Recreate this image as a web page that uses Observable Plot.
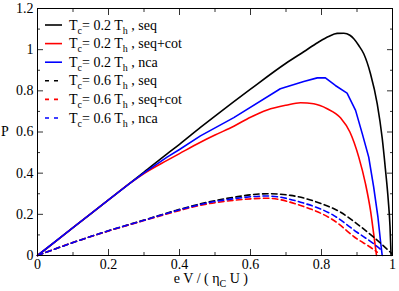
<!DOCTYPE html>
<html>
<head>
<meta charset="utf-8">
<script src="https://cdn.jsdelivr.net/npm/d3@7"></script>
<script src="https://cdn.jsdelivr.net/npm/@observablehq/plot@0.6"></script>
<style>
  html, body { margin: 0; padding: 0; background: white; }
  #chart svg { display: block; }
</style>
</head>
<body>
<div id="chart"></div>
<script>
// ---- data ----
const xMajor = [0, 0.2, 0.4, 0.6, 0.8, 1];
const xMinor = [0.1, 0.3, 0.5, 0.7, 0.9];
const yMajor = [0, 0.2, 0.4, 0.6, 0.8, 1, 1.2];
const yMinor = [0.1, 0.3, 0.5, 0.7, 0.9, 1.1];

// Tc = 0.2 Th, seq (black solid)
const blackSolidX = [0, 0.1, 0.2, 0.3, 0.365, 0.4, 0.459, 0.5, 0.6, 0.7, 0.75, 0.79, 0.82, 0.844, 0.863, 0.88, 0.891, 0.905, 0.919, 0.938, 0.957, 0.971, 0.98, 0.988, 0.993, 0.996];
const blackSolidY = [0, 0.135, 0.27, 0.405, 0.494, 0.54, 0.622, 0.677, 0.808, 0.934, 0.99, 1.035, 1.064, 1.079, 1.08, 1.07, 1.053, 1.02, 0.98, 0.883, 0.737, 0.57, 0.42, 0.27, 0.14, 0];
// Tc = 0.2 Th, seq+cot (red solid)
const redSolidX = [0, 0.1, 0.2, 0.26, 0.3, 0.365, 0.4, 0.459, 0.5, 0.553, 0.6, 0.647, 0.7, 0.741, 0.778, 0.816, 0.854, 0.88, 0.905, 0.924, 0.938, 0.947, 0.955];
const redSolidY = [0, 0.135, 0.27, 0.35, 0.398, 0.462, 0.495, 0.55, 0.585, 0.628, 0.672, 0.707, 0.73, 0.742, 0.737, 0.713, 0.668, 0.6, 0.478, 0.348, 0.219, 0.105, 0];
// Tc = 0.2 Th, nca (blue solid)
const blueSolidX = [0, 0.1, 0.2, 0.26, 0.3, 0.365, 0.4, 0.459, 0.553, 0.684, 0.75, 0.788, 0.811, 0.839, 0.872, 0.896, 0.915, 0.933, 0.947, 0.959, 0.966, 0.971];
const blueSolidY = [0, 0.135, 0.27, 0.35, 0.401, 0.478, 0.515, 0.581, 0.67, 0.81, 0.845, 0.863, 0.863, 0.826, 0.789, 0.705, 0.591, 0.478, 0.332, 0.186, 0.073, 0];
// Tc = 0.6 Th, seq (black dashed)
const blackDashX = [0, 0.1, 0.194, 0.3, 0.39, 0.459, 0.553, 0.647, 0.713, 0.788, 0.854, 0.9, 0.947, 0.999];
const blackDashY = [0, 0.063, 0.117, 0.172, 0.219, 0.251, 0.283, 0.3, 0.292, 0.259, 0.21, 0.154, 0.089, 0.008];
// Tc = 0.6 Th, seq+cot (red dashed)
const redDashX = [0, 0.1, 0.194, 0.3, 0.39, 0.459, 0.553, 0.647, 0.741, 0.835, 0.9, 0.938, 0.957];
const redDashY = [0, 0.063, 0.116, 0.17, 0.214, 0.244, 0.268, 0.278, 0.243, 0.17, 0.081, 0.04, 0.016];
// Tc = 0.6 Th, nca (blue dashed)
const blueDashX = [0, 0.1, 0.194, 0.3, 0.39, 0.459, 0.553, 0.647, 0.741, 0.835, 0.9, 0.947, 0.971];
const blueDashY = [0, 0.063, 0.117, 0.171, 0.217, 0.248, 0.276, 0.289, 0.259, 0.194, 0.113, 0.057, 0.024];

// legend
const legendTc = ["0.2", "0.2", "0.2", "0.6", "0.6", "0.6"];
const legendModel = ["seq", "seq+cot", "nca", "seq", "seq+cot", "nca"];
const seriesColor = ["black", "red", "blue", "black", "red", "blue"];
const seriesDashed = [false, false, false, true, true, true];

const seriesX = [blackSolidX, redSolidX, blueSolidX, blackDashX, redDashX, blueDashX];
const seriesY = [blackSolidY, redSolidY, blueSolidY, blackDashY, redDashY, blueDashY];

const DASH = "5.5,3.5";
const FONT = "Liberation Serif, DejaVu Serif, serif";
const FS = 14;
const SUB = 10;

const lineMarks = seriesX.map((xs, i) => {
  const data = xs.map((x, j) => ({x, y: seriesY[i][j]}));
  return Plot.line(data, {
    x: "x", y: "y",
    stroke: seriesColor[i],
    strokeWidth: 1.6,
    strokeDasharray: seriesDashed[i] ? DASH : null,
    curve: i === 2 ? "linear" : "monotone-x"
  });
});

const noText = () => "";
const chart = Plot.plot({
  width: 399,
  height: 291,
  marginLeft: 37,
  marginRight: 7,
  marginTop: 8,
  marginBottom: 36,
  x: {domain: [0, 1]},
  y: {domain: [0, 1.2]},
  style: {fontSize: FS + "px", background: "white", color: "black"},
  marks: [
    // inward ticks on all four sides
    Plot.axisX({anchor: "bottom", ticks: xMajor, tickSize: -6, tickFormat: noText, label: null, stroke: "#333"}),
    Plot.axisX({anchor: "bottom", ticks: xMinor, tickSize: -3, tickFormat: noText, label: null, stroke: "#333"}),
    Plot.axisX({anchor: "top", ticks: xMajor, tickSize: -6, tickFormat: noText, label: null, stroke: "#333"}),
    Plot.axisX({anchor: "top", ticks: xMinor, tickSize: -3, tickFormat: noText, label: null, stroke: "#333"}),
    Plot.axisY({anchor: "left", ticks: yMajor, tickSize: -6, tickFormat: noText, label: null, stroke: "#333"}),
    Plot.axisY({anchor: "left", ticks: yMinor, tickSize: -3, tickFormat: noText, label: null, stroke: "#333"}),
    Plot.axisY({anchor: "right", ticks: yMajor, tickSize: -6, tickFormat: noText, label: null, stroke: "#333"}),
    Plot.axisY({anchor: "right", ticks: yMinor, tickSize: -3, tickFormat: noText, label: null, stroke: "#333"}),
    // tick labels
    Plot.axisX({anchor: "bottom", ticks: xMajor, tickSize: 0, tickPadding: 4, tickFormat: d => String(d), label: null, fontSize: FS}),
    Plot.axisY({anchor: "left", ticks: yMajor, tickSize: 0, tickPadding: 4, tickFormat: d => String(d), label: null, fontSize: FS}),
    ...lineMarks,
    Plot.frame({stroke: "black", strokeWidth: 1})
  ]
});

document.getElementById("chart").appendChild(chart);

const svg = d3.select(chart);
const sx = chart.scale("x");
const sy = chart.scale("y");

// y-axis label
svg.append("text")
  .attr("x", 1)
  .attr("y", sy.apply(0.6))
  .attr("dy", "0.32em")
  .attr("text-anchor", "start")
  .attr("font-size", FS)
  .attr("fill", "black")
  .text("P");

// x-axis label with subscript
const xl = svg.append("text")
  .attr("x", sx.apply(0.49))
  .attr("y", 283)
  .attr("text-anchor", "middle")
  .attr("font-size", FS)
  .attr("fill", "black");
xl.append("tspan").text("e V / ( \u03B7");
xl.append("tspan").attr("dy", 4).attr("font-size", SUB).text("C");
xl.append("tspan").attr("dy", -4).text(" U )");

// legend
const lg = svg.append("g");
legendTc.forEach((tc, i) => {
  const yc = 25 + i * 18.6;
  lg.append("line")
    .attr("x1", 45).attr("x2", 62)
    .attr("y1", yc).attr("y2", yc)
    .attr("stroke", seriesColor[i])
    .attr("stroke-width", 1.6)
    .attr("stroke-dasharray", seriesDashed[i] ? "4,5" : null);
  const t = lg.append("text")
    .attr("x", 69).attr("y", yc + 4.5)
    .attr("text-anchor", "start")
    .attr("font-size", FS)
    .attr("fill", "black");
  t.append("tspan").text("T");
  t.append("tspan").attr("dy", 4).attr("font-size", SUB).text("c");
  t.append("tspan").attr("dy", -4).text("= " + tc + " T");
  t.append("tspan").attr("dy", 4).attr("font-size", SUB).text("h");
  t.append("tspan").attr("dy", -4).text(" , " + legendModel[i]);
});

// apply serif font to every text element directly
chart.setAttribute("font-family", FONT);
chart.style.fontFamily = FONT;
svg.selectAll("g").attr("font-family", null);
svg.selectAll("text").style("font-family", FONT).style("white-space", "pre");
svg.selectAll("tspan").style("font-family", FONT);
</script>
</body>
</html>
